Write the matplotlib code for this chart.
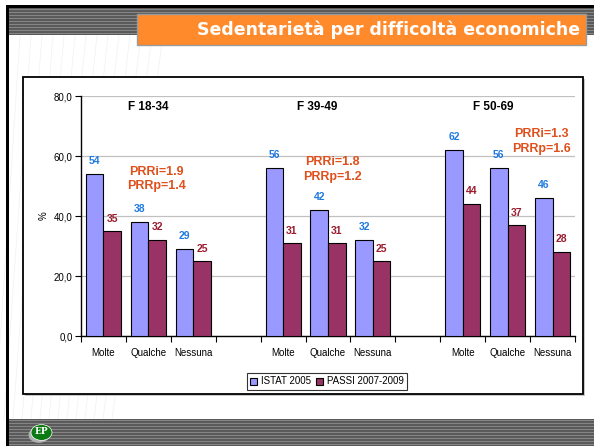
import matplotlib
matplotlib.use("Agg")
import matplotlib.pyplot as plt
from matplotlib.patches import Rectangle, Circle
from matplotlib.lines import Line2D
from matplotlib.ticker import FixedLocator, FuncFormatter

# ---------------- data ----------------
groups = ["F 18-34", "F 39-49", "F 50-69"]
levels = ["Molte", "Qualche", "Nessuna"]
istat = [54, 38, 29, 56, 42, 32, 62, 56, 46]
passi = [35, 32, 25, 31, 31, 25, 44, 37, 28]
prr_i = ["1.9", "1.8", "1.3"]
prr_p = ["1.4", "1.2", "1.6"]
series_names = ["ISTAT 2005", "PASSI 2007-2009"]
yticks = [0, 20, 40, 60, 80]

W, H = 594, 446
plt.rcParams['font.family'] = ['Liberation Sans', 'DejaVu Sans']
fig = plt.figure(figsize=(W / 100, H / 100), dpi=100)
fig.patch.set_facecolor('white')


def fx(x):
    return x / W


def fy(y):
    return 1 - y / H


def prect(x0, y0, x1, y1, **kw):
    r = Rectangle((fx(x0), fy(y1)), fx(x1) - fx(x0), fy(y0) - fy(y1),
                  transform=fig.transFigure, **kw)
    fig.add_artist(r)
    return r


def stripes(x0, y0, x1, y1, z):
    prect(x0, y0, x1, y1, facecolor='#5a5a5a', edgecolor='none', zorder=z)
    y = y0 + 1
    while y < y1:
        prect(x0, y, x1, min(y + 1.4, y1), facecolor='#858585',
              edgecolor='none', zorder=z + 0.1)
        y += 3


# faint decorative rays
for i in range(14):
    xs = 20 + i * 11
    fig.add_artist(Line2D([fx(xs), fx(xs - 25 - i * 2)], [fy(35), fy(419)],
                          transform=fig.transFigure, color='#f3f3f3',
                          lw=0.6, zorder=-5))

# top & bottom slide bands
stripes(6, 8, W, 35, -4)
prect(6, 5, W, 8, facecolor='black', edgecolor='none', zorder=-3)
stripes(8, 419, W, H, -4)
prect(6, 5, 8.5, H, facecolor='black', edgecolor='none', zorder=-3)

# orange title box
prect(137, 14, 586, 45, facecolor='#FF8A2B', edgecolor='#9a9a9a', lw=1.0,
      zorder=-2)
fig.text(fx(580), fy(30), "Sedentarietà per difficoltà economiche",
         ha='right', va='center', color='white', fontsize=12.5,
         fontweight='bold', family='DejaVu Sans', zorder=5)

# chart frame
prect(24.5, 78.5, 584.5, 395.5, facecolor='#c8c8c8', edgecolor='none',
      zorder=-2.5)
prect(23, 77, 583, 394, facecolor='white', edgecolor='black', lw=1.3,
      zorder=-2)

# logo
fig.add_artist(Circle((fx(39), fy(435)), 10.5 / W, transform=fig.transFigure,
                      facecolor='#b0b0b0', edgecolor='none', zorder=-1))
fig.add_artist(Circle((fx(41.5), fy(432.5)), 10.5 / W,
                      transform=fig.transFigure, facecolor='#0b7a12',
                      edgecolor='white', lw=0.5, zorder=-0.9))
fig.text(fx(41), fy(432), "EP", ha='center', va='center', color='white',
         fontsize=6.5, fontweight='bold', family='DejaVu Serif', zorder=5)

# ---------------- chart ----------------
ax = fig.add_axes([fx(81), fy(336), fx(575) - fx(81), fy(96) - fy(336)])
ax.set_facecolor('white')

n_lv = len(levels)
pos = [g * (n_lv + 1) + l for g in range(len(groups)) for l in range(n_lv)]
labels_all = [levels[l] for g in range(len(groups)) for l in range(n_lv)]
bw = 0.39
b1 = ax.bar([p - bw / 2 for p in pos], istat, width=bw, color='#9999FF',
            edgecolor='black', lw=0.8, zorder=3, label=series_names[0])
b2 = ax.bar([p + bw / 2 for p in pos], passi, width=bw, color='#993366',
            edgecolor='black', lw=0.8, zorder=3, label=series_names[1])

for p, v in zip(pos, istat):
    ax.annotate(f"{v}", (p - bw / 2, v), xytext=(0, 9.4),
                textcoords='offset points', ha='center', va='center',
                color='#1F7AE0', fontsize=7.5, fontweight='bold')
for p, v in zip(pos, passi):
    ax.annotate(f"{v}", (p + bw / 2, v), xytext=(0, 9.0),
                textcoords='offset points', ha='center', va='center',
                color='#9B1C2E', fontsize=7.5, fontweight='bold')

n_slots = len(groups) * (n_lv + 1) - 1
ax.set_xlim(-0.5, n_slots - 0.5)
ax.set_ylim(0, 80)
ax.set_yticks(yticks)
ax.yaxis.set_major_formatter(FuncFormatter(lambda v, p: f"{v:.1f}".replace('.', ',')))
ax.tick_params(axis='y', length=4, width=0.8, labelsize=7, colors='black',
               pad=2)
ax.set_xticks(pos)
ax.set_xticklabels(labels_all)
ax.tick_params(axis='x', which='major', length=0, labelsize=7, pad=9)
ax.xaxis.set_minor_locator(FixedLocator([i - 0.5 for i in range(n_slots + 1)]))
ax.tick_params(axis='x', which='minor', length=4, width=0.8)
ax.grid(axis='y', color='#c0c0c0', lw=0.9, zorder=0)
for s in ['top', 'right']:
    ax.spines[s].set_visible(False)
ax.spines['left'].set_linewidth(1.0)
ax.spines['bottom'].set_linewidth(1.0)
ax.set_ylabel("%", fontsize=7, labelpad=4)

# group titles
title_x = [0.1356, 0.478, 0.834]
for gx, g in zip(title_x, groups):
    ax.text(gx, (336 - 107) / 240, g, transform=ax.transAxes, ha='center',
            va='center', fontsize=8.5, fontweight='bold')

# PRR annotations
prr_x = [0.152, 0.508, 0.933]
prr_y = [(54.7, 50.0), (58.0, 53.0), (67.3, 62.3)]
for px_, (y1, y2), a, b in zip(prr_x, prr_y, prr_i, prr_p):
    ax.text(px_, y1 / 80, f"PRRi={a}", transform=ax.transAxes, ha='center',
            va='center', fontsize=9, fontweight='bold', color='#E0501C')
    ax.text(px_, y2 / 80, f"PRRp={b}", transform=ax.transAxes, ha='center',
            va='center', fontsize=9, fontweight='bold', color='#E0501C')

leg = fig.legend(handles=[b1, b2], loc='center', bbox_to_anchor=(fx(327), fy(381.5)),
                 ncol=2, fontsize=7, frameon=True, fancybox=False,
                 edgecolor='black', handlelength=0.7, handleheight=0.7,
                 handletextpad=0.4, columnspacing=0.6, borderpad=0.35,
                 borderaxespad=0)
leg.get_frame().set_linewidth(0.8)

fig.savefig("out.png", dpi=100, facecolor='white')
